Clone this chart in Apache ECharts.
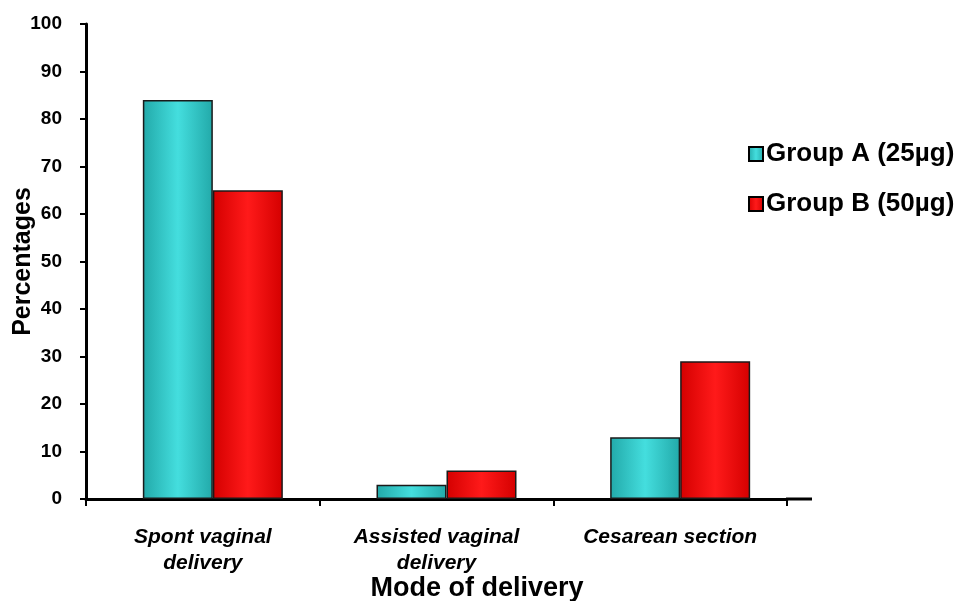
<!DOCTYPE html>
<html>
<head>
<meta charset="utf-8">
<script src="https://cdn.jsdelivr.net/npm/echarts@6/dist/echarts.min.js"></script>
<style>
  html, body { margin: 0; padding: 0; background: #fff; }
  #chart { width: 959px; height: 601px; }
</style>
</head>
<body>
<div id="chart"></div>
<script>
// Mode of delivery by group (percentages)
const categories = ['Spont vaginal\ndelivery', 'Assisted vaginal\ndelivery', 'Cesarean section'];
const seriesNames = ['Group A (25µg)', 'Group B (50µg)'];
const groupA = [84, 3, 13];
const groupB = [65, 6, 29];
const yTicks = { min: 0, max: 100, interval: 10 };

const FONT = '"Liberation Sans", Arial, sans-serif';

function barFill(dark, light) {
  return new echarts.graphic.LinearGradient(0, 0, 1, 0, [
    { offset: 0, color: dark },
    { offset: 0.5, color: light },
    { offset: 1, color: dark }
  ]);
}

const chart = echarts.init(document.getElementById('chart'), null, { renderer: 'canvas' });

const axisLine = { show: true, lineStyle: { color: '#000', width: 3 } };

chart.setOption({
  backgroundColor: '#fff',
  animation: false,
  title: {
    text: 'Mode of delivery',
    left: 477,
    top: 575,
    textAlign: 'center',
    padding: 0,
    textStyle: { fontFamily: FONT, fontWeight: 'bold', fontSize: 27, color: '#000' }
  },
  legend: {
    orient: 'vertical',
    left: 743,
    top: 136,
    itemWidth: 14,
    itemHeight: 14,
    itemGap: 24,
    icon: 'rect',
    data: seriesNames,
    itemStyle: { borderColor: '#000', borderWidth: 2 },
    textStyle: { fontFamily: FONT, fontWeight: 'bold', fontSize: 26, color: '#000', padding: [0, 0, 0, -2] }
  },
  grid: [
    { left: 86, right: 172, top: 24, bottom: 102, containLabel: false, outerBoundsMode: 'none' },
    { left: 96, right: 162, top: 24, bottom: 102, containLabel: false, outerBoundsMode: 'none' }
  ],
  xAxis: [
    {
      gridIndex: 0,
      type: 'category',
      data: categories,
      boundaryGap: true,
      axisLine: axisLine,
      axisTick: { show: true, length: 7, lineStyle: { color: '#000', width: 2 } },
      axisLabel: {
        margin: 25,
        fontFamily: FONT, fontWeight: 'bold', fontStyle: 'italic', fontSize: 21,
        color: '#000', lineHeight: 26, interval: 0
      }
    },
    {
      gridIndex: 1,
      type: 'category',
      data: categories,
      boundaryGap: true,
      show: false
    }
  ],
  yAxis: [
    {
      gridIndex: 0,
      type: 'value',
      min: yTicks.min, max: yTicks.max, interval: yTicks.interval,
      name: 'Percentages',
      nameLocation: 'middle',
      nameGap: 50,
      nameMoveOverlap: false,
      nameTextStyle: { fontFamily: FONT, fontWeight: 'bold', fontSize: 25, color: '#000' },
      axisLine: axisLine,
      axisTick: { show: true, length: 6, lineStyle: { color: '#000', width: 2 } },
      splitLine: { show: false },
      axisLabel: { margin: 24, fontFamily: FONT, fontWeight: 'bold', fontSize: 19, color: '#000' }
    },
    {
      gridIndex: 1,
      type: 'value',
      min: yTicks.min, max: yTicks.max, interval: yTicks.interval,
      show: false
    }
  ],
  graphic: [
    {
      type: 'line',
      shape: { x1: 786, y1: 499, x2: 812, y2: 499 },
      style: { stroke: '#000', lineWidth: 3 },
      z: 10
    }
  ],
  series: [
    {
      name: seriesNames[0],
      type: 'bar',
      xAxisIndex: 1,
      yAxisIndex: 1,
      data: groupA,
      barWidth: 70,
      barGap: '0%',
      itemStyle: { color: barFill('#22a9a9', '#44dede'), borderColor: '#1a1a1a', borderWidth: 1.5 }
    },
    {
      name: seriesNames[1],
      type: 'bar',
      xAxisIndex: 1,
      yAxisIndex: 1,
      data: groupB,
      barWidth: 70,
      barGap: '0%',
      itemStyle: { color: barFill('#d40000', '#ff1a1a'), borderColor: '#1a1a1a', borderWidth: 1.5 }
    }
  ]
});
</script>
</body>
</html>
